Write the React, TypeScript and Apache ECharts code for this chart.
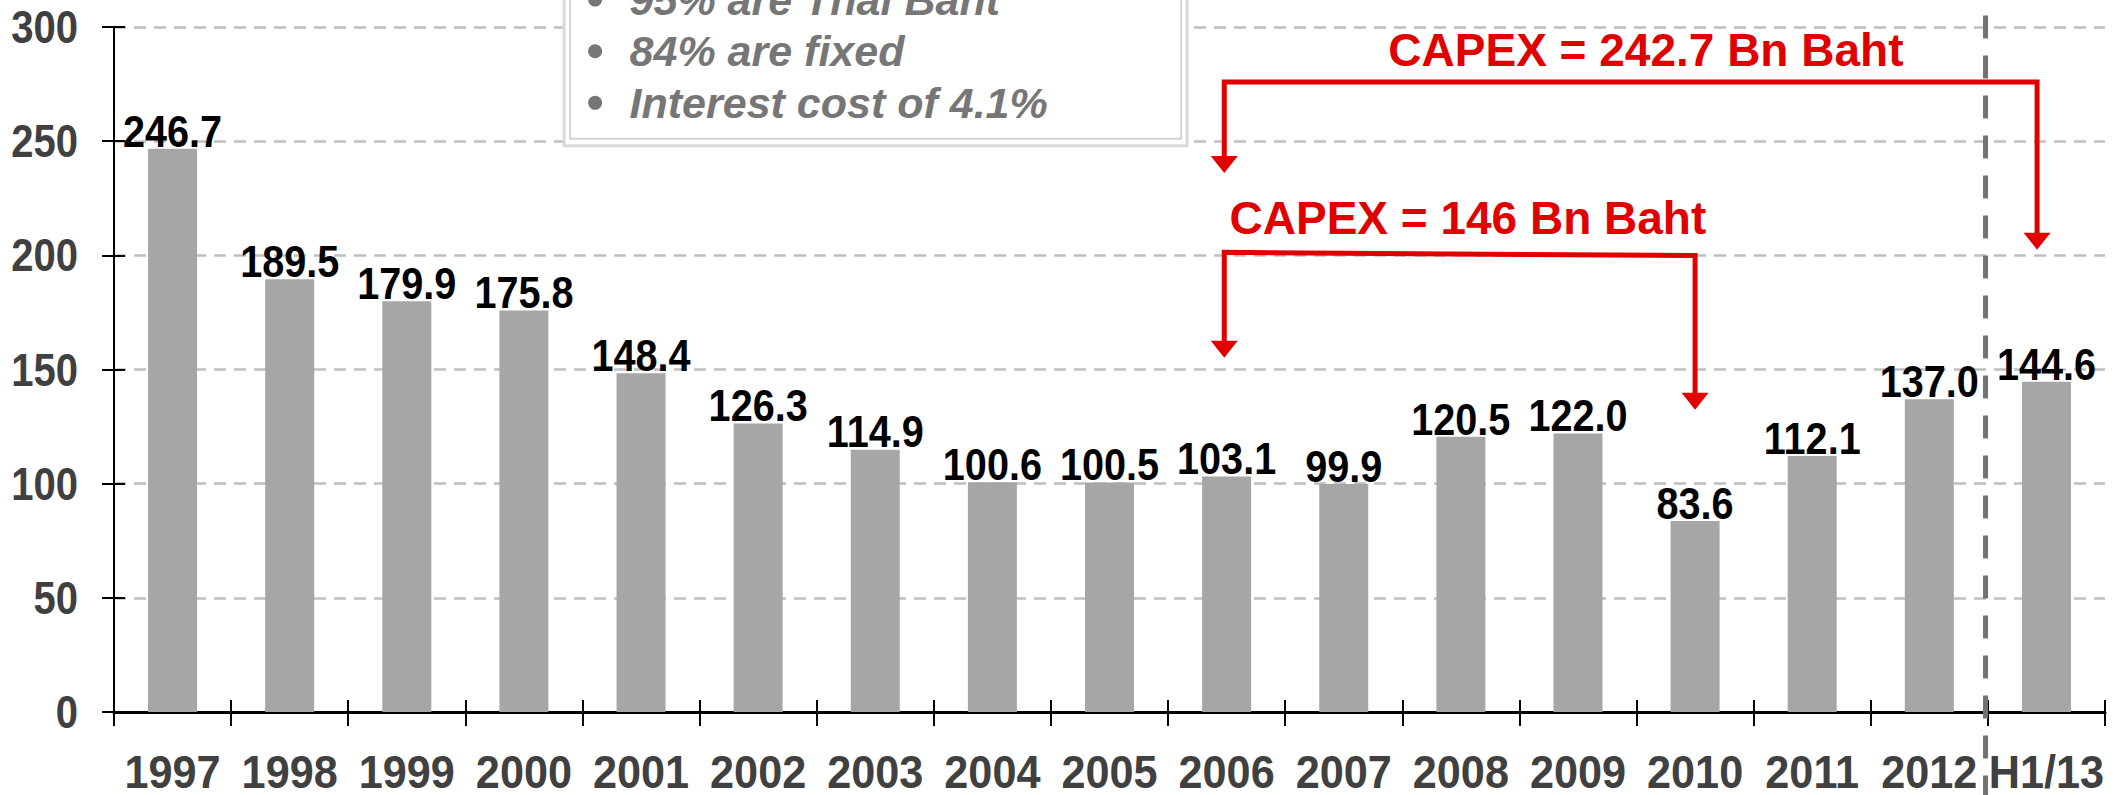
import React, { useEffect, useRef } from "react";
import * as echarts from "echarts";

// ---------- data ----------
const categories = [
  "1997", "1998", "1999", "2000", "2001", "2002", "2003", "2004", "2005",
  "2006", "2007", "2008", "2009", "2010", "2011", "2012", "H1/13",
];
const debtValues = [
  246.7, 189.5, 179.9, 175.8, 148.4, 126.3, 114.9, 100.6, 100.5,
  103.1, 99.9, 120.5, 122.0, 83.6, 112.1, 137.0, 144.6,
];
const yMin = 0;
const yMax = 300;
const yInterval = 50;
const yTickLabels = ["0", "50", "100", "150", "200", "250", "300"];
const boxLines = ["95% are Thai Baht", "84% are fixed", "Interest cost of 4.1%"];
const capexLongText = "CAPEX = 242.7 Bn Baht";
const capexShortText = "CAPEX = 146 Bn Baht";

// ---------- styling ----------
const SANS = "'Liberation Sans', Arial, Helvetica, sans-serif";
const RED = "#E00000";
const BAR = "#A6A6A6";
const AXIS_TEXT = "#404040";
const BOX_TEXT = "#767676";

export default function App() {
  const ref = useRef<HTMLDivElement>(null);

  useEffect(() => {
    if (!ref.current) return;
    const chart = echarts.init(ref.current, undefined, { renderer: "svg" });

    const xBase = {
      type: "category" as const,
      data: categories,
      position: "bottom" as const,
      boundaryGap: true,
    };
    const yBase = {
      type: "value" as const,
      min: yMin,
      max: yMax,
      interval: yInterval,
      position: "left" as const,
    };

    chart.setOption({
      animation: false,
      backgroundColor: "#ffffff",
      grid: { left: 114, right: 16, top: 27, bottom: 83, containLabel: false },
      xAxis: [
        {
          ...xBase,
          axisLine: { show: true, lineStyle: { color: "#000", width: 3 } },
          axisTick: { show: true, inside: false, length: 14, lineStyle: { color: "#000", width: 2 } },
          axisLabel: { show: false },
          splitLine: { show: false },
        },
        {
          ...xBase,
          axisLine: { show: false },
          axisTick: { show: true, inside: true, length: 12, lineStyle: { color: "#000", width: 2 } },
          axisLabel: { show: false },
          splitLine: { show: false },
        },
      ],
      yAxis: [
        {
          ...yBase,
          axisLine: { show: true, lineStyle: { color: "#000", width: 2 } },
          axisTick: { show: true, inside: false, length: 12, lineStyle: { color: "#000", width: 2 } },
          axisLabel: { show: false },
          splitLine: {
            show: true,
            lineStyle: { color: "#BFBFBF", width: 2.5, type: [12, 8] },
          },
        },
        {
          ...yBase,
          axisLine: { show: false },
          axisTick: { show: true, inside: true, length: 11, lineStyle: { color: "#000", width: 2 } },
          axisLabel: { show: false },
          splitLine: { show: false },
        },
      ],
      series: [
        {
          type: "bar",
          xAxisIndex: 0,
          yAxisIndex: 0,
          data: debtValues,
          barWidth: 49,
          itemStyle: { color: BAR },
          label: { show: false },
        },
      ],
    });

    // ---------- pixel helpers from the chart's own scales ----------
    const x0 = chart.convertToPixel({ xAxisIndex: 0 }, 0) as number;
    const x1 = chart.convertToPixel({ xAxisIndex: 0 }, 1) as number;
    const step = x1 - x0;
    const X = (pos: number) => x0 + step * pos;
    const Y = (v: number) => chart.convertToPixel({ yAxisIndex: 0 }, v) as number;
    const H = chart.getHeight();
    const axisLeft = X(-0.5);

    // condensed bold text (Arial-Narrow look) via horizontal scaling
    const narrowText = (
      text: string, x: number, y: number, size: number, sx: number,
      color: string, align: string
    ) => ({
      type: "text",
      x,
      y,
      scaleX: sx,
      style: {
        text,
        fill: color,
        font: `bold ${size}px ${SANS}`,
        align,
        verticalAlign: "middle",
      },
      z: 30,
    });

    const barLabelSize = 44;
    const axisLabelSize = 46;
    const xLabelSize = 47;
    const boxFont = 43;
    const capexFont = 46;
    const headW = 27;
    const headH = 17;
    const lw = 5;

    const barLabels = debtValues.map((v, i) =>
      narrowText(v.toFixed(1), X(i), Y(v) - 2 - 0.35 * barLabelSize, barLabelSize, 0.9, "#000", "center")
    );
    const xLabels = categories.map((c, i) =>
      narrowText(c, X(i), Y(0) + 60, xLabelSize, 0.92, AXIS_TEXT, "center")
    );
    const yLabels = yTickLabels.map((t) =>
      narrowText(t, axisLeft - 36, Y(Number(t)), axisLabelSize, 0.87, AXIS_TEXT, "right")
    );

    const arrowHead = (x: number, tipY: number) => ({
      type: "polygon",
      shape: { points: [[x - headW / 2, tipY - headH], [x + headW / 2, tipY - headH], [x, tipY]] },
      style: { fill: RED },
      z: 20,
    });

    const bracket = (xl: number, xr: number, yl: number, yr: number, tipL: number, tipR: number) => [
      {
        type: "polyline",
        shape: { points: [[xl, tipL - headH + 2], [xl, yl], [xr, yr], [xr, tipR - headH + 2]] },
        style: { stroke: RED, lineWidth: lw, fill: "none", lineJoin: "miter" },
        z: 20,
      },
      arrowHead(xl, tipL),
      arrowHead(xr, tipR),
    ];

    const boxL = X(3.343), boxR = X(8.663), boxB = Y(248.0);
    const inL = X(3.394), inR = X(8.612), inB = Y(251.1);
    const baselines = [305.4, 282.8, 260.2];

    const graphics: any[] = [
      // dashed separator between annual and half-year data
      {
        type: "line",
        shape: { x1: X(15.48), y1: Y(305), x2: X(15.48), y2: H },
        style: { stroke: "#727272", lineWidth: 5, lineDash: [23, 17] },
        z: 15,
      },
      // text box with double border
      {
        type: "rect",
        shape: { x: boxL, y: -20, width: boxR - boxL, height: boxB + 20 },
        style: { fill: "#fff", stroke: "#DADADA", lineWidth: 3 },
        z: 10,
      },
      {
        type: "rect",
        shape: { x: inL, y: -20, width: inR - inL, height: inB + 20 },
        style: { fill: "#fff", stroke: "#D4D4D4", lineWidth: 2 },
        z: 11,
      },
      ...boxLines.flatMap((t, i) => {
        const by = Y(baselines[i]);
        return [
          {
            type: "circle",
            shape: { cx: X(3.608), cy: by - 0.35 * boxFont, r: 7 },
            style: { fill: BOX_TEXT },
            z: 12,
          },
          {
            type: "text",
            x: X(3.902),
            y: by - 0.35 * boxFont,
            style: {
              text: t,
              fill: BOX_TEXT,
              font: `italic bold ${boxFont}px ${SANS}`,
              align: "left",
              verticalAlign: "middle",
            },
            z: 12,
          },
        ];
      }),
      // CAPEX annotations
      {
        type: "text",
        x: X(12.58),
        y: Y(290.1),
        style: {
          text: capexLongText,
          fill: RED,
          font: `bold ${capexFont}px ${SANS}`,
          align: "center",
          verticalAlign: "middle",
        },
        z: 20,
      },
      ...bracket(X(8.98), X(15.92), Y(275.9), Y(275.9), Y(236.1), Y(202.5)),
      {
        type: "text",
        x: X(11.06),
        y: Y(216.5),
        style: {
          text: capexShortText,
          fill: RED,
          font: `bold ${capexFont}px ${SANS}`,
          align: "center",
          verticalAlign: "middle",
        },
        z: 20,
      },
      ...bracket(X(8.98), X(13.0), Y(201.3), Y(199.9), Y(155.1), Y(132.4)),
      ...barLabels,
      ...xLabels,
      ...yLabels,
    ];

    chart.setOption({ graphic: graphics });

    return () => chart.dispose();
  }, []);

  return (
    <div
      ref={ref}
      style={{ position: "fixed", left: 0, top: 0, width: 2121, height: 795, background: "#fff" }}
    />
  );
}
